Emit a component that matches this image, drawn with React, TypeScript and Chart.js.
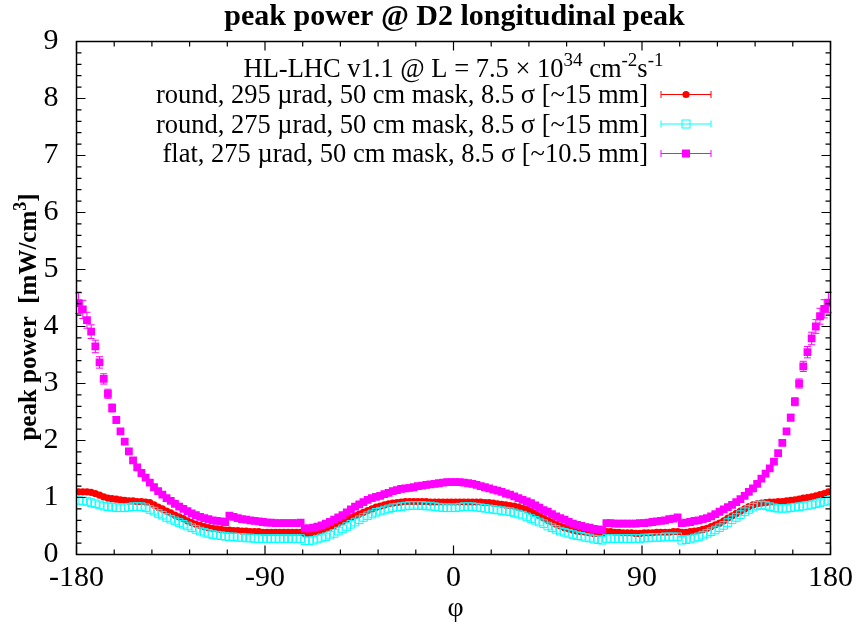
import React, { useEffect, useRef } from "react";
import { Chart, registerables } from "chart.js";

Chart.register(...registerables);

// azimuthal bin centres (deg)
const PHI = [
  -179, -177, -175, -173, -171, -169, -167, -165, -163, -161,
  -159, -157, -155, -153, -151, -149, -147, -145, -143, -141,
  -139, -137, -135, -133, -131, -129, -127, -125, -123, -121,
  -119, -117, -115, -113, -111, -109, -107, -105, -103, -101,
  -99, -97, -95, -93, -91, -89, -87, -85, -83, -81,
  -79, -77, -75, -73, -71, -69, -67, -65, -63, -61,
  -59, -57, -55, -53, -51, -49, -47, -45, -43, -41,
  -39, -37, -35, -33, -31, -29, -27, -25, -23, -21,
  -19, -17, -15, -13, -11, -9, -7, -5, -3, -1,
  1, 3, 5, 7, 9, 11, 13, 15, 17, 19,
  21, 23, 25, 27, 29, 31, 33, 35, 37, 39,
  41, 43, 45, 47, 49, 51, 53, 55, 57, 59,
  61, 63, 65, 67, 69, 71, 73, 75, 77, 79,
  81, 83, 85, 87, 89, 91, 93, 95, 97, 99,
  101, 103, 105, 107, 109, 111, 113, 115, 117, 119,
  121, 123, 125, 127, 129, 131, 133, 135, 137, 139,
  141, 143, 145, 147, 149, 151, 153, 155, 157, 159,
  161, 163, 165, 167, 169, 171, 173, 175, 177, 179,
];

// round, 295 urad
const ROUND_295 = [
  1.10, 1.10, 1.10, 1.09, 1.07, 1.04, 1.01, 0.99, 0.98, 0.97,
  0.96, 0.95, 0.94, 0.94, 0.93, 0.93, 0.92, 0.91, 0.87, 0.83,
  0.80, 0.76, 0.73, 0.69, 0.66, 0.63, 0.59, 0.56, 0.53, 0.51,
  0.49, 0.47, 0.46, 0.45, 0.44, 0.43, 0.43, 0.42, 0.42, 0.41,
  0.41, 0.40, 0.40, 0.40, 0.39, 0.39, 0.39, 0.39, 0.39, 0.39,
  0.39, 0.39, 0.39, 0.39, 0.37, 0.37, 0.38, 0.40, 0.42, 0.45,
  0.48, 0.51, 0.55, 0.58, 0.62, 0.65, 0.68, 0.71, 0.74, 0.77,
  0.80, 0.83, 0.85, 0.87, 0.89, 0.90, 0.91, 0.92, 0.93, 0.93,
  0.93, 0.93, 0.93, 0.93, 0.92, 0.92, 0.92, 0.92, 0.92, 0.92,
  0.92, 0.92, 0.92, 0.92, 0.92, 0.92, 0.92, 0.91, 0.91, 0.90,
  0.89, 0.88, 0.87, 0.86, 0.85, 0.83, 0.81, 0.79, 0.76, 0.72,
  0.68, 0.64, 0.60, 0.57, 0.53, 0.50, 0.47, 0.45, 0.43, 0.41,
  0.40, 0.39, 0.38, 0.37, 0.37, 0.37, 0.40, 0.40, 0.39, 0.39,
  0.38, 0.38, 0.38, 0.37, 0.37, 0.38, 0.38, 0.38, 0.39, 0.39,
  0.39, 0.39, 0.40, 0.40, 0.39, 0.39, 0.40, 0.41, 0.42, 0.44,
  0.46, 0.49, 0.52, 0.55, 0.59, 0.64, 0.68, 0.72, 0.76, 0.80,
  0.84, 0.87, 0.89, 0.90, 0.91, 0.92, 0.92, 0.93, 0.93, 0.94,
  0.95, 0.96, 0.97, 0.99, 1.00, 1.01, 1.03, 1.05, 1.07, 1.10,
];

// round, 275 urad
const ROUND_275 = [
  0.95, 0.94, 0.93, 0.91, 0.89, 0.87, 0.85, 0.84, 0.83, 0.82,
  0.82, 0.82, 0.83, 0.84, 0.84, 0.84, 0.82, 0.79, 0.76, 0.72,
  0.69, 0.65, 0.62, 0.59, 0.56, 0.53, 0.50, 0.47, 0.44, 0.41,
  0.39, 0.37, 0.35, 0.34, 0.33, 0.32, 0.31, 0.31, 0.30, 0.30,
  0.29, 0.29, 0.28, 0.28, 0.28, 0.28, 0.28, 0.28, 0.28, 0.28,
  0.28, 0.28, 0.28, 0.28, 0.24, 0.24, 0.25, 0.27, 0.29, 0.31,
  0.34, 0.37, 0.41, 0.45, 0.49, 0.53, 0.57, 0.61, 0.65, 0.68,
  0.71, 0.74, 0.76, 0.78, 0.80, 0.82, 0.83, 0.84, 0.85, 0.86,
  0.86, 0.86, 0.86, 0.85, 0.85, 0.84, 0.83, 0.82, 0.82, 0.82,
  0.82, 0.83, 0.84, 0.84, 0.84, 0.83, 0.82, 0.81, 0.80, 0.79,
  0.78, 0.77, 0.76, 0.75, 0.73, 0.71, 0.69, 0.66, 0.63, 0.60,
  0.57, 0.54, 0.50, 0.47, 0.44, 0.41, 0.39, 0.37, 0.35, 0.33,
  0.32, 0.30, 0.29, 0.27, 0.26, 0.25, 0.28, 0.28, 0.28, 0.28,
  0.28, 0.28, 0.28, 0.28, 0.28, 0.29, 0.29, 0.30, 0.30, 0.30,
  0.31, 0.31, 0.31, 0.31, 0.25, 0.26, 0.27, 0.29, 0.31, 0.34,
  0.37, 0.40, 0.43, 0.47, 0.51, 0.56, 0.61, 0.65, 0.70, 0.75,
  0.79, 0.83, 0.86, 0.87, 0.86, 0.84, 0.82, 0.81, 0.81, 0.81,
  0.82, 0.83, 0.84, 0.85, 0.86, 0.87, 0.89, 0.91, 0.93, 0.95,
];

// flat, 275 urad
const FLAT_275 = [
  4.41, 4.30, 4.11, 3.91, 3.65, 3.37, 3.08, 2.82, 2.57, 2.36,
  2.16, 1.98, 1.81, 1.65, 1.53, 1.43, 1.35, 1.26, 1.18, 1.11,
  1.05, 0.99, 0.94, 0.89, 0.84, 0.80, 0.76, 0.72, 0.69, 0.66,
  0.64, 0.62, 0.60, 0.59, 0.58, 0.57, 0.68, 0.66, 0.64, 0.62,
  0.61, 0.60, 0.59, 0.58, 0.57, 0.56, 0.56, 0.55, 0.55, 0.55,
  0.55, 0.55, 0.55, 0.56, 0.46, 0.46, 0.47, 0.49, 0.51, 0.54,
  0.57, 0.61, 0.65, 0.69, 0.74, 0.79, 0.84, 0.88, 0.92, 0.96,
  0.99, 1.01, 1.03, 1.06, 1.08, 1.11, 1.13, 1.15, 1.16, 1.17,
  1.18, 1.20, 1.21, 1.22, 1.23, 1.24, 1.25, 1.26, 1.27, 1.27,
  1.27, 1.27, 1.26, 1.25, 1.24, 1.22, 1.20, 1.18, 1.16, 1.14,
  1.12, 1.10, 1.07, 1.05, 1.02, 0.99, 0.96, 0.93, 0.90, 0.86,
  0.82, 0.78, 0.75, 0.71, 0.67, 0.64, 0.61, 0.57, 0.54, 0.52,
  0.50, 0.48, 0.47, 0.45, 0.44, 0.43, 0.55, 0.55, 0.54, 0.54,
  0.54, 0.54, 0.54, 0.54, 0.55, 0.55, 0.56, 0.57, 0.58, 0.59,
  0.60, 0.62, 0.63, 0.65, 0.55, 0.56, 0.57, 0.59, 0.60, 0.62,
  0.64, 0.67, 0.71, 0.75, 0.79, 0.83, 0.87, 0.92, 0.97, 1.03,
  1.10, 1.16, 1.24, 1.33, 1.42, 1.51, 1.63, 1.78, 1.96, 2.16,
  2.40, 2.68, 3.00, 3.30, 3.55, 3.79, 4.00, 4.18, 4.31, 4.42,
];

const FLAT_275_ERR = [
  0.18, 0.16, 0.14, 0.12, 0.11, 0.10, 0.09, 0.08, 0.07, 0.06,
  0.05, 0.05, 0.04, 0.04, 0.04, 0.03, 0.03, 0.03, 0.03, 0.03,
  0.02, 0.02, 0.02, 0.02, 0.02, 0.02, 0.02, 0.02, 0.02, 0.02,
  0.02, 0.02, 0.02, 0.02, 0.02, 0.02, 0.02, 0.02, 0.02, 0.02,
  0.02, 0.02, 0.02, 0.02, 0.02, 0.02, 0.02, 0.02, 0.02, 0.02,
  0.02, 0.02, 0.02, 0.02, 0.02, 0.02, 0.02, 0.02, 0.02, 0.02,
  0.02, 0.02, 0.02, 0.02, 0.02, 0.02, 0.02, 0.02, 0.02, 0.02,
  0.02, 0.02, 0.02, 0.02, 0.02, 0.02, 0.02, 0.02, 0.02, 0.02,
  0.02, 0.02, 0.02, 0.02, 0.02, 0.02, 0.02, 0.02, 0.02, 0.02,
  0.02, 0.02, 0.02, 0.02, 0.02, 0.02, 0.02, 0.02, 0.02, 0.02,
  0.02, 0.02, 0.02, 0.02, 0.02, 0.02, 0.02, 0.02, 0.02, 0.02,
  0.02, 0.02, 0.02, 0.02, 0.02, 0.02, 0.02, 0.02, 0.02, 0.02,
  0.02, 0.02, 0.02, 0.02, 0.02, 0.02, 0.02, 0.02, 0.02, 0.02,
  0.02, 0.02, 0.02, 0.02, 0.02, 0.02, 0.02, 0.02, 0.02, 0.02,
  0.02, 0.02, 0.02, 0.02, 0.02, 0.02, 0.02, 0.02, 0.02, 0.02,
  0.02, 0.02, 0.02, 0.02, 0.02, 0.02, 0.02, 0.02, 0.02, 0.02,
  0.03, 0.03, 0.03, 0.03, 0.03, 0.04, 0.04, 0.04, 0.05, 0.05,
  0.06, 0.07, 0.08, 0.09, 0.10, 0.11, 0.12, 0.14, 0.16, 0.18,
];

const X_TICKS = [-180, -90, 0, 90, 180];
const Y_TICKS = [0, 1, 2, 3, 4, 5, 6, 7, 8, 9];

const TITLE = "peak power @ D2 longitudinal peak";
const X_TITLE = "\u03c6";
const SERIES_LABELS = [
  "round, 295 \u00b5rad, 50 cm mask, 8.5 \u03c3 [~15 mm]",
  "round, 275 \u00b5rad, 50 cm mask, 8.5 \u03c3 [~15 mm]",
  "flat, 275 \u00b5rad, 50 cm mask, 8.5 \u03c3 [~10.5 mm]",
];
const COLORS = ["#ff0000", "#00ffff", "#ff00ff"];

const FONT = "'Liberation Serif', 'Times New Roman', serif";

type Part = { t: string; sup?: boolean };

function richWidth(ctx: CanvasRenderingContext2D, parts: Part[], size: number, weight: string) {
  let w = 0;
  for (const p of parts) {
    ctx.font = `${weight} ${p.sup ? Math.round(size * 0.7) : size}px ${FONT}`;
    w += ctx.measureText(p.t).width;
  }
  return w;
}

function drawRich(
  ctx: CanvasRenderingContext2D,
  parts: Part[],
  x: number,
  y: number,
  size: number,
  weight: string,
  align: "left" | "center" | "right"
) {
  const w = richWidth(ctx, parts, size, weight);
  let cx = align === "left" ? x : align === "center" ? x - w / 2 : x - w;
  ctx.textAlign = "left";
  ctx.textBaseline = "alphabetic";
  for (const p of parts) {
    ctx.font = `${weight} ${p.sup ? Math.round(size * 0.7) : size}px ${FONT}`;
    ctx.fillText(p.t, cx, p.sup ? y - size * 0.42 : y);
    cx += ctx.measureText(p.t).width;
  }
}

const decorPlugin = {
  id: "decor",
  beforeDatasetDraw(chart: any, args: any) {
    const ds = chart.data.datasets[args.index];
    const err: number[] | undefined = ds.errors;
    if (!err) return;
    const { ctx, scales } = chart;
    const xs = scales.x;
    const ys = scales.y;
    ctx.save();
    ctx.strokeStyle = ds.borderColor;
    ctx.lineWidth = 1;
    ctx.beginPath();
    ds.data.forEach((pt: any, i: number) => {
      const px = xs.getPixelForValue(pt.x);
      const y1 = ys.getPixelForValue(pt.y - err[i]);
      const y2 = ys.getPixelForValue(pt.y + err[i]);
      ctx.moveTo(px, y1);
      ctx.lineTo(px, y2);
      ctx.moveTo(px - 3.5, y1);
      ctx.lineTo(px + 3.5, y1);
      ctx.moveTo(px - 3.5, y2);
      ctx.lineTo(px + 3.5, y2);
    });
    ctx.stroke();
    ctx.restore();
  },
  afterDraw(chart: any) {
    const { ctx, chartArea: a, scales } = chart;
    const xs = scales.x;
    const ys = scales.y;
    ctx.save();
    // frame
    ctx.strokeStyle = "#000";
    ctx.lineWidth = 1.5;
    ctx.strokeRect(a.left, a.top, a.right - a.left, a.bottom - a.top);
    // inward ticks, mirrored
    ctx.lineWidth = 1.2;
    ctx.beginPath();
    for (let v = -180; v <= 180; v += 18) {
      const major = X_TICKS.includes(v);
      const len = major ? 9 : 5;
      const px = xs.getPixelForValue(v);
      ctx.moveTo(px, a.bottom);
      ctx.lineTo(px, a.bottom - len);
      ctx.moveTo(px, a.top);
      ctx.lineTo(px, a.top + len);
    }
    for (let k = 0; k <= 45; k++) {
      const v = k * 0.2;
      const major = k % 5 === 0;
      const len = major ? 9 : 5;
      const py = ys.getPixelForValue(v);
      ctx.moveTo(a.left, py);
      ctx.lineTo(a.left + len, py);
      ctx.moveTo(a.right, py);
      ctx.lineTo(a.right - len, py);
    }
    ctx.stroke();

    ctx.fillStyle = "#000";
    // title
    drawRich(ctx, [{ t: TITLE }], (a.left + a.right) / 2 + 1, 25, 30, "bold", "center");
    // x title
    drawRich(ctx, [{ t: X_TITLE }], (a.left + a.right) / 2 + 2, 616, 28, "normal", "center");
    // y title
    ctx.save();
    ctx.translate(36, 317);
    ctx.rotate(-Math.PI / 2);
    drawRich(
      ctx,
      [{ t: "peak power  [mW/cm" }, { t: "3", sup: true }, { t: "]" }],
      0,
      0,
      25,
      "bold",
      "center"
    );
    ctx.restore();
    // legend header
    drawRich(
      ctx,
      [
        { t: "HL-LHC v1.1 @ L = 7.5 \u00d7 10" },
        { t: "34", sup: true },
        { t: " cm" },
        { t: "-2", sup: true },
        { t: "s" },
        { t: "-1", sup: true },
      ],
      (a.left + a.right) / 2,
      77,
      26.5,
      "normal",
      "center"
    );
    // legend entries
    const baselines = [103, 132.5, 162];
    SERIES_LABELS.forEach((label, i) => {
      ctx.fillStyle = "#000";
      drawRich(ctx, [{ t: label }], 648, baselines[i], 26.5, "normal", "right");
      const yy = baselines[i] - 8.5;
      const c = COLORS[i];
      ctx.strokeStyle = c;
      ctx.fillStyle = c;
      ctx.lineWidth = 1;
      ctx.beginPath();
      ctx.moveTo(661, yy);
      ctx.lineTo(711, yy);
      ctx.moveTo(661, yy - 3.5);
      ctx.lineTo(661, yy + 3.5);
      ctx.moveTo(711, yy - 3.5);
      ctx.lineTo(711, yy + 3.5);
      ctx.stroke();
      if (i === 0) {
        ctx.beginPath();
        ctx.arc(686, yy, 3.6, 0, Math.PI * 2);
        ctx.fill();
      } else if (i === 1) {
        ctx.strokeRect(682, yy - 4, 8, 8);
      } else {
        ctx.fillRect(682, yy - 4, 8, 8);
      }
    });
    ctx.restore();
  },
};

export default function App() {
  const ref = useRef<HTMLCanvasElement | null>(null);

  useEffect(() => {
    const canvas = ref.current;
    if (!canvas) return;
    const mk = (vals: number[]) => PHI.map((x, i) => ({ x, y: vals[i] }));
    const tickFont = { family: FONT, size: 30 };
    const chart = new Chart(canvas, {
      type: "scatter",
      data: {
        datasets: [
          {
            label: SERIES_LABELS[0],
            data: mk(ROUND_295),
            pointStyle: "circle",
            pointRadius: 3.6,
            pointBorderWidth: 0,
            backgroundColor: COLORS[0],
            borderColor: COLORS[0],
            showLine: false,
            order: 2,
          },
          {
            label: SERIES_LABELS[1],
            data: mk(ROUND_275),
            pointStyle: "rect",
            pointRadius: 5.4,
            pointBorderWidth: 1,
            backgroundColor: "rgba(0,0,0,0)",
            borderColor: COLORS[1],
            showLine: false,
            order: 1,
          },
          {
            label: SERIES_LABELS[2],
            data: mk(FLAT_275),
            errors: FLAT_275_ERR,
            pointStyle: "rect",
            pointRadius: 5.5,
            pointBorderWidth: 0,
            backgroundColor: COLORS[2],
            borderColor: COLORS[2],
            showLine: false,
            order: 0,
          } as any,
        ],
      },
      options: {
        responsive: false,
        animation: false,
        devicePixelRatio: 1,
        events: [],
        layout: { padding: { left: 0, top: 41.5, right: 27, bottom: 0 } },
        plugins: {
          legend: { display: false },
          tooltip: { enabled: false },
          title: { display: false },
        },
        scales: {
          x: {
            type: "linear",
            min: -180,
            max: 180,
            grid: { display: false, drawTicks: false },
            border: { display: false },
            afterBuildTicks: (s: any) => {
              s.ticks = X_TICKS.map((v) => ({ value: v }));
            },
            afterFit: (s: any) => {
              s.height = 70.5;
            },
            ticks: {
              color: "#000",
              font: tickFont,
              padding: 6,
              maxRotation: 0,
              autoSkip: false,
              callback: (v: any) => String(v),
            },
          },
          y: {
            type: "linear",
            min: 0,
            max: 9,
            grid: { display: false, drawTicks: false },
            border: { display: false },
            afterBuildTicks: (s: any) => {
              s.ticks = Y_TICKS.map((v) => ({ value: v }));
            },
            afterFit: (s: any) => {
              s.width = 76.5;
            },
            ticks: {
              color: "#000",
              font: tickFont,
              padding: 18,
              autoSkip: false,
              callback: (v: any) => String(v),
            },
          },
        },
      },
      plugins: [decorPlugin],
    });
    return () => chart.destroy();
  }, []);

  return (
    <div style={{ position: "absolute", left: 0, top: 0, width: 859, height: 625, background: "#fff" }}>
      <canvas ref={ref} width={859} height={625} style={{ display: "block" }} />
    </div>
  );
}
